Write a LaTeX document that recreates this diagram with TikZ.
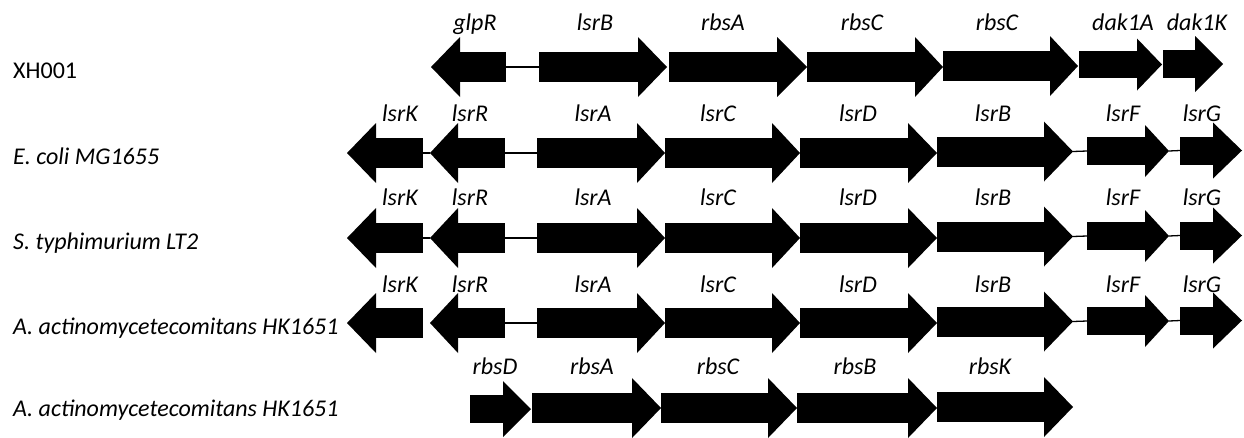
\documentclass[tikz,border=0pt]{standalone}
\usepackage{fontspec}
\setmainfont{Carlito}
\tikzset{
  body/.style={rectangle, fill=black, draw=none, inner sep=0pt, outer sep=0pt},
  glab/.style={anchor=base, inner sep=0pt, font=\fontsize{24}{28}\selectfont\itshape},
  slab/.style={anchor=base west, inner sep=0pt, font=\fontsize{24}{28}\selectfont},
  link/.style={line width=1.3pt, black},
}
% right-pointing gene: name, x start, x head base, x tip, y centre, body half, head half
\newcommand\geneR[7]{%
  \node[body, minimum width={#3-#2+0.6}, minimum height={2*#6}, anchor=west] (#1) at (#2,#5) {};
  \fill[black] (#3,#5-#7) -- (#4,#5) -- (#3,#5+#7) -- cycle;
  \coordinate (#1-tip) at (#4,#5);
}
% left-pointing gene: name, x tip, x head base, x right end, y centre, body half, head half
\newcommand\geneL[7]{%
  \node[body, minimum width={#4-#3+0.6}, minimum height={2*#6}, anchor=east] (#1) at (#4,#5) {};
  \fill[black] (#3,#5-#7) -- (#2,#5) -- (#3,#5+#7) -- cycle;
  \coordinate (#1-tip) at (#2,#5);
}
\begin{document}
\begin{tikzpicture}[x=1pt,y=-1pt]
\useasboundingbox (0,0) rectangle (1244,437);

% ---------- Row 1: XH001 ----------
\node[slab] (s1) at (13,78) {XH001};
\geneL{a-glpR}{431}{460}{506}{67}{15}{30}
\geneR{a-lsrB}{539}{638}{667}{67}{15}{30}
\geneR{a-rbsA}{669}{777}{807}{67}{15}{30}
\geneR{a-rbsC}{807}{915}{943}{67}{15}{30}
\geneR{a-rbsCb}{943}{1050}{1078}{66}{15}{30}
\geneR{a-dakA}{1079}{1137}{1162}{64.5}{13.5}{26}
\geneR{a-dakK}{1163}{1195}{1223}{64}{14}{28}
\draw[link] (a-glpR.east) -- (a-lsrB.west);
\node[glab] (la1) at (475,30) {glpR};
\node[glab] (la2) at (595,30) {lsrB};
\node[glab] (la3) at (723,30) {rbsA};
\node[glab] (la4) at (862,30) {rbsC};
\node[glab] (la5) at (997,30) {rbsC};
\node[glab] (la6) at (1123,30) {dak1A};
\node[glab] (la7) at (1197,30) {dak1K};

% ---------- Rows 2-4: lsr operons ----------
\foreach \r/\y/\lab/\lb/\sp in {b/153/{\itshape E. coli MG1655}/121/164,
                                c/238/{\itshape S. typhimurium LT2}/205/249,
                                d/323/{\itshape A. actinomycetecomitans HK1651}/292/334}{
  \node[slab] (s\r) at (13,\sp) {\lab};
  \geneL{\r-lsrK}{347}{376}{423}{\y}{15}{30}
  \geneL{\r-lsrR}{430}{458}{505}{\y}{15}{30}
  \geneR{\r-lsrA}{537}{637}{665}{\y}{15}{30}
  \geneR{\r-lsrC}{665}{772}{800}{\y}{15}{30}
  \geneR{\r-lsrD}{800}{908}{937}{\y}{15}{30}
  \geneR{\r-lsrB}{937}{1044}{1073}{\y-1.5}{15}{30}
  \geneR{\r-lsrF}{1087}{1145}{1169}{\y-2}{14}{26}
  \geneR{\r-lsrG}{1180}{1213}{1242}{\y-2.5}{14}{28}
  \draw[link] (\r-lsrR.east) -- (\r-lsrA.west);
  \draw[link] (\r-lsrB-tip) -- (\r-lsrF.west);
  \draw[link] (\r-lsrF-tip) -- (\r-lsrG.west);
  \node[glab] (\r-l1) at (400,\lb) {lsrK};
  \node[glab] (\r-l2) at (470,\lb) {lsrR};
  \node[glab] (\r-l3) at (593,\lb) {lsrA};
  \node[glab] (\r-l4) at (718,\lb) {lsrC};
  \node[glab] (\r-l5) at (858,\lb) {lsrD};
  \node[glab] (\r-l6) at (993,\lb) {lsrB};
  \node[glab] (\r-l7) at (1123,\lb) {lsrF};
  \node[glab] (\r-l8) at (1202,\lb) {lsrG};
}
\draw[link] (b-lsrK.east) -- (b-lsrR-tip);
\draw[link] (c-lsrK.east) -- (c-lsrR-tip);

% ---------- Row 5: rbs operon ----------
\node[slab] (s5) at (13,416) {\itshape A. actinomycetecomitans HK1651};
\geneR{e-rbsD}{470}{503}{531}{409}{14}{28}
\geneR{e-rbsA}{532}{632}{661}{408}{15}{30}
\geneR{e-rbsC}{661}{768}{797}{408}{15}{30}
\geneR{e-rbsB}{797}{908}{937}{408}{15}{30}
\geneR{e-rbsK}{937}{1044}{1073}{407}{15}{30}
\node[glab] (le1) at (495,374) {rbsD};
\node[glab] (le2) at (592,374) {rbsA};
\node[glab] (le3) at (718,374) {rbsC};
\node[glab] (le4) at (855,374) {rbsB};
\node[glab] (le5) at (990,374) {rbsK};
\end{tikzpicture}
\end{document}
